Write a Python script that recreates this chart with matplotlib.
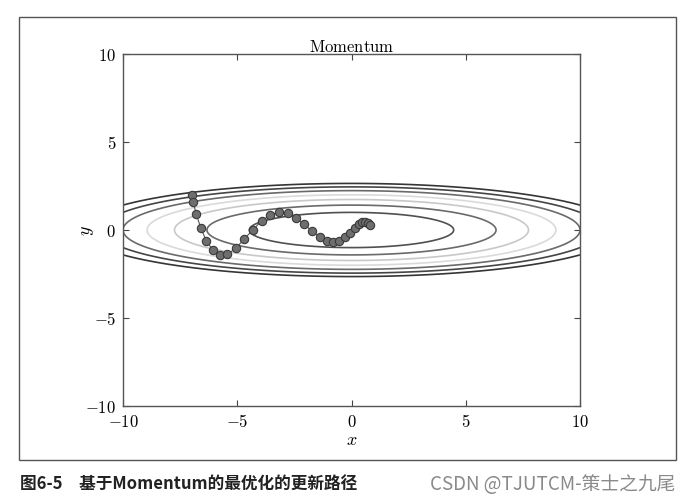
import matplotlib
matplotlib.use("Agg")
import matplotlib.pyplot as plt
import numpy as np
from matplotlib.patches import Rectangle

plt.rcParams["mathtext.fontset"] = "cm"
plt.rcParams["font.family"] = ["Noto Sans CJK SC", "DejaVu Sans"]

# path of the Momentum optimizer
path_x = [-7.00, -6.93, -6.80, -6.60, -6.35, -6.06, -5.77, -5.43, -5.07, -4.70,
          -4.32, -3.93, -3.55, -3.16, -2.79, -2.42, -2.06, -1.73, -1.39, -1.09,
          -0.81, -0.53, -0.27, -0.05, 0.14, 0.31, 0.46, 0.59, 0.71, 0.82]
path_y = [2.00, 1.60, 0.93, 0.13, -0.63, -1.15, -1.42, -1.38, -1.04, -0.53,
          0.02, 0.51, 0.87, 1.00, 0.95, 0.68, 0.32, -0.07, -0.42, -0.63,
          -0.68, -0.61, -0.40, -0.15, 0.10, 0.32, 0.44, 0.47, 0.41, 0.28]

levels = [1, 2, 3, 4, 5, 6, 7]
level_colors = ["#505050", "#6a6a6a", "#c8c8c8", "#dadada", "#6a6a6a", "#454545", "#353535"]
ticks = [-10, -5, 0, 5, 10]

gx = np.linspace(-10, 10, 801)
gy = np.linspace(-5, 5, 801)
X, Y = np.meshgrid(gx, gy)
Z = X ** 2 / 20.0 + Y ** 2

fig = plt.figure(figsize=(6.9, 5.02), dpi=100)
ax = fig.add_axes([123 / 690, 1 - 407 / 502, 457 / 690, 352 / 502])

ax.contour(X, Y, Z, levels=levels, colors=level_colors, linewidths=1.2)
ax.plot(path_x, path_y, "-", color="#555555", lw=0.8, marker="o", ms=6,
        mfc="#6e6e6e", mec="#3a3a3a", mew=0.8)

ax.set_xlim(-10, 10)
ax.set_ylim(-10, 10)
ax.set_xticks(ticks)
ax.set_yticks(ticks)
ax.set_xticklabels([f"${t}$" for t in ticks], fontsize=12)
ax.set_yticklabels([f"${t}$" for t in ticks], fontsize=12)
ax.tick_params(direction="in", top=True, right=True, length=4, width=0.8,
               color="#444444", pad=5)
for s in ax.spines.values():
    s.set_color("#555555")
    s.set_linewidth(1.0)

ax.set_title(r"$\mathrm{Momentum}$", fontsize=12, pad=2)
ax.set_xlabel("$x$", fontsize=13)
ax.xaxis.set_label_coords(0.5, -0.068)
ax.set_ylabel("$y$", fontsize=13, rotation=90)
ax.yaxis.set_label_coords(-0.059, 0.5)

fig.add_artist(Rectangle((19 / 690, 1 - 461 / 502), 657 / 690, 443 / 502,
                         transform=fig.transFigure, fill=False,
                         edgecolor="#555555", lw=1.0))

fig.text(20 / 690, 1 - 485 / 502, "图6-5\u3000基于Momentum的最优化的更新路径",
         fontsize=12, fontweight="bold", color="#222222", va="center")
fig.text(430 / 690, 1 - 485 / 502, "CSDN @TJUTCM-策士之九尾",
         fontsize=13.5, color="#8a8a8a", va="center")

fig.savefig("out.png", dpi=100)
